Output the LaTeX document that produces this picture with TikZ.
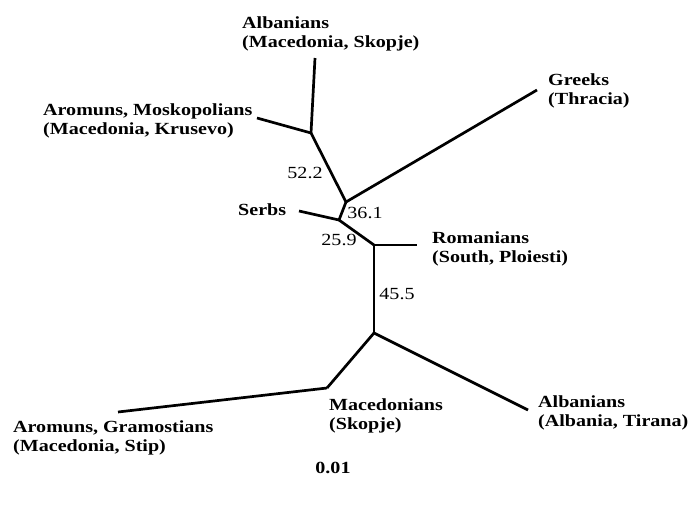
\documentclass[tikz,border=0pt]{standalone}
\usepackage{fontspec}
\setmainfont{Liberation Serif}[FakeStretch=1.18]
\begin{document}
\begin{tikzpicture}[x=1pt,y=-1pt,
  branch/.style={line width=2.7pt},
  taxon/.style={anchor=base west,inner sep=0pt,align=left,font=\fontsize{17}{19.5}\selectfont\bfseries},
  support/.style={anchor=center,inner sep=0pt,font=\fontsize{17}{19.5}\selectfont}]
\useasboundingbox (0,0) rectangle (688,506);
% internal nodes
\coordinate (A) at (311,133);
\coordinate (B) at (346,202);
\coordinate (C) at (339,220);
\coordinate (D) at (374,245);
\coordinate (E) at (374,333);
\coordinate (F) at (327,388);
% leaf ends
\coordinate (lAlbSk) at (315,58);
\coordinate (lArom) at (257,118);
\coordinate (lGreek) at (537,90);
\coordinate (lSerb) at (299,211);
\coordinate (lRom) at (417,245);
\coordinate (lGram) at (118,412);
\coordinate (lTir) at (528,410);
% branches
\draw[branch] (lAlbSk) -- (A);
\draw[branch] (lArom) -- (A);
\draw[branch] (A) -- (B);
\draw[branch] (B) -- (lGreek);
\draw[branch] (B) -- (C);
\draw[branch] (C) -- (lSerb);
\draw[branch] (C) -- (D);
\draw[branch] (D) -- (lRom);
\draw[branch] (D) -- (E);
\draw[branch] (E) -- (F);
\draw[branch] (F) -- (lGram);
\draw[branch] (E) -- (lTir);
% taxa (anchor = baseline of the last line)
\node[taxon] (tAlbSk) at (242,47.5) {Albanians\\(Macedonia, Skopje)};
\node[taxon] (tArom) at (43,134.5) {Aromuns, Moskopolians\\(Macedonia, Krusevo)};
\node[taxon] (tGreek) at (548,104.5) {Greeks\\(Thracia)};
\node[taxon] (tSerb) at (238,215) {Serbs};
\node[taxon] (tRom) at (432,262.5) {Romanians\\(South, Ploiesti)};
\node[taxon] (tGram) at (13,451.5) {Aromuns, Gramostians\\(Macedonia, Stip)};
\node[taxon] (tMac) at (329,429.5) {Macedonians\\(Skopje)};
\node[taxon] (tTir) at (538,426.5) {Albanians\\(Albania, Tirana)};
% support values
\node[support] (s522) at (305,173) {52.2};
\node[support] (s361) at (365,213) {36.1};
\node[support] (s259) at (339,240) {25.9};
\node[support] (s455) at (397,294) {45.5};
% scale
\node[support,font=\fontsize{17}{19.5}\selectfont\bfseries] (scale) at (333,468) {0.01};
\end{tikzpicture}
\end{document}
